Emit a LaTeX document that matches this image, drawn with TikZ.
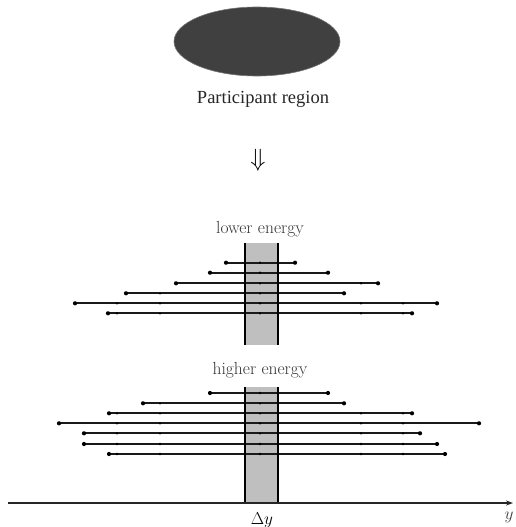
\documentclass[tikz,border=0pt]{standalone}
\usepackage{fontspec}
\newfontfamily\regionfont{Liberation Serif}[Ligatures=TeX]
\usetikzlibrary{arrows.meta,shapes.geometric}
\tikzset{
  seg/.style={line width=1.8pt,black!90},
  enddot/.style={black},
  middot/.style={black},
  bandbox/.style={fill=black!25,draw=none,inner sep=0pt,minimum width=33pt},
  bandline/.style={line width=2.4pt,black},
  softlabel/.style={text=black!80,font=\fontsize{17.5}{20}\selectfont,inner sep=0pt},
}
\begin{document}
\begin{tikzpicture}[x=1pt,y=-1pt]
\useasboundingbox (0,0) rectangle (516,527);
% participant region
\node (region) [ellipse,fill=black!75,draw=black!55,line width=0.6pt,inner sep=0pt,
  minimum width=166pt,minimum height=69pt] at (257,41.5) {};
\node (regionlabel) [anchor=base,inner sep=0pt,text=black!85] at (263,103)
  {\regionfont\fontsize{18.5}{22}\selectfont Participant region};
\node (arrow) [inner sep=0pt] at (258,160) {\fontsize{27}{30}\selectfont$\Downarrow$};
% labels
\node (lower) [softlabel,anchor=base] at (260,233) {lower energy};
\node (higher) [softlabel,anchor=base] at (260,374) {higher energy};
% bands
\node (band1) [bandbox,minimum height=102pt] at (261.5,294) {};
\node (band2) [bandbox,minimum height=116pt] at (261.5,445) {};
% lower energy segments
\foreach \yy/\xl/\xr [count=\i] in {262.7/226/295,272.7/210/328,283.3/176/378,293.3/126/344,303.3/75/437,313.3/108/412}{
  \coordinate (lo\i-L) at (\xl,\yy);
  \coordinate (lo\i-R) at (\xr,\yy);
  \draw[seg] (lo\i-L) -- (lo\i-R);
  \foreach \m in {117,160,260,361,403}{
    \ifdim\m pt>\xl pt\relax\ifdim\m pt<\xr pt\relax
      \fill[middot] (\m,\yy) circle (1.3);
    \fi\fi
  }
  \fill[enddot] (lo\i-L) circle (2.1);
  \fill[enddot] (lo\i-R) circle (2.1);
}
% higher energy segments
\foreach \yy/\xl/\xr [count=\i] in {393/210/328,403.3/143/344,413.3/109/412,423.3/59/479,433.3/84/420,444/84/437,454/109/445}{
  \coordinate (hi\i-L) at (\xl,\yy);
  \coordinate (hi\i-R) at (\xr,\yy);
  \draw[seg] (hi\i-L) -- (hi\i-R);
  \foreach \m in {117,160,260,361,403}{
    \ifdim\m pt>\xl pt\relax\ifdim\m pt<\xr pt\relax
      \fill[middot] (\m,\yy) circle (1.3);
    \fi\fi
  }
  \fill[enddot] (hi\i-L) circle (2.1);
  \fill[enddot] (hi\i-R) circle (2.1);
}
% band borders
\draw[bandline] (band1.north west) -- (band1.south west);
\draw[bandline] (band1.north east) -- (band1.south east);
\draw[bandline] (band2.north west) -- (band2.south west);
\draw[bandline] (band2.north east) -- (band2.south east);
% axis
\coordinate (ax0) at (8,503);
\coordinate (ax1) at (513,503);
\draw[line width=1.6pt,black!85,-{Stealth[length=7pt,width=5pt]}] (ax0) -- (ax1);
\node (dy) [anchor=base,inner sep=0pt] at (262,524) {\fontsize{17}{20}\selectfont$\Delta y$};
\node (ylabel) [anchor=base,inner sep=0pt,text=black!75] at (509,519) {\fontsize{16}{19}\selectfont$y$};
\end{tikzpicture}
\end{document}
